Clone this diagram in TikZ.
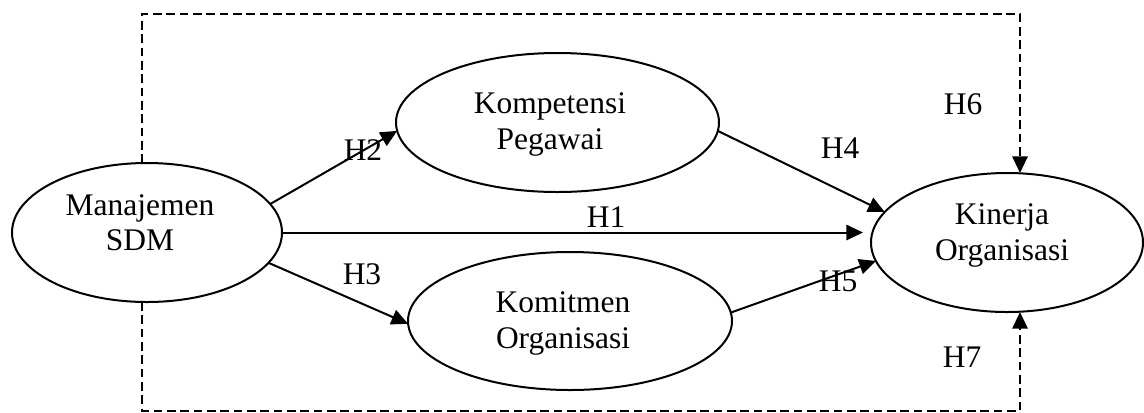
\documentclass[tikz,border=0pt]{standalone}
\usepackage{fontspec}
\setmainfont{Liberation Serif}
\usetikzlibrary{arrows.meta,shapes.geometric}
\begin{document}
\begin{tikzpicture}[x=0.75pt,y=-0.75pt,
  every node/.style={font=\fontsize{23.6}{26.5}\selectfont},
  construct/.style={draw,ellipse,line width=1.5pt,inner sep=0pt,outer sep=0pt},
  caption/.style={align=center,inner sep=0pt},
  hyp/.style={inner sep=0pt},
  link/.style={line width=1.5pt,-{Triangle[length=12.5pt,width=11.5pt]}},
  indirect/.style={link,dash pattern=on 6.5pt off 3.5pt}]
\useasboundingbox (0,0) rectangle (1144,412);

% constructs
\node[construct,minimum width=202.5pt,minimum height=104.25pt] (msdm) at (147,232.5) {};
\node[caption] (msdm-t) at (140,223) {Manajemen\\SDM};
\node[construct,minimum width=242.25pt,minimum height=104.25pt] (komp) at (557.5,122.5) {};
\node[caption] (komp-t) at (550,124.5) {Kompetensi\\Pegawai};
\node[construct,minimum width=243pt,minimum height=103.5pt] (komit) at (570,321) {};
\node[caption] (komit-t) at (563,323.5) {Komitmen\\Organisasi};
\node[construct,minimum width=204pt,minimum height=104.25pt] (kin) at (1007,242.5) {};
\node[caption] (kin-t) at (1002,235.5) {Kinerja\\Organisasi};

% direct paths
\draw[link] (msdm.13) -- (komp.183);
\draw[link] (msdm.-14) -- (komit.181);
\draw[link,shorten >=6pt] (msdm.east) -- (msdm.east -| kin.west);
\draw[link] (komp.-3) -- (kin.166);
\draw[link] (komit.3) -- (kin.188);

% mediated paths
\coordinate (tl) at (142,14);
\coordinate (tr) at (1020,14);
\coordinate (bl) at (142,410.5);
\coordinate (br) at (1020,410.5);
\draw[indirect] (tl |- msdm.north) -- (tl) -- (tr) -- (tr |- kin.north);
\draw[indirect] (bl |- msdm.south) -- (bl) -- (br) -- (br |- kin.south);

% hypothesis labels
\node[hyp] (h1) at (606,217) {H1};
\node[hyp] (h2) at (363,150) {H2};
\node[hyp] (h3) at (362,274) {H3};
\node[hyp] (h4) at (840,148) {H4};
\node[hyp] (h5) at (838,281) {H5};
\node[hyp] (h6) at (963,104) {H6};
\node[hyp] (h7) at (962,357) {H7};
\end{tikzpicture}
\end{document}
